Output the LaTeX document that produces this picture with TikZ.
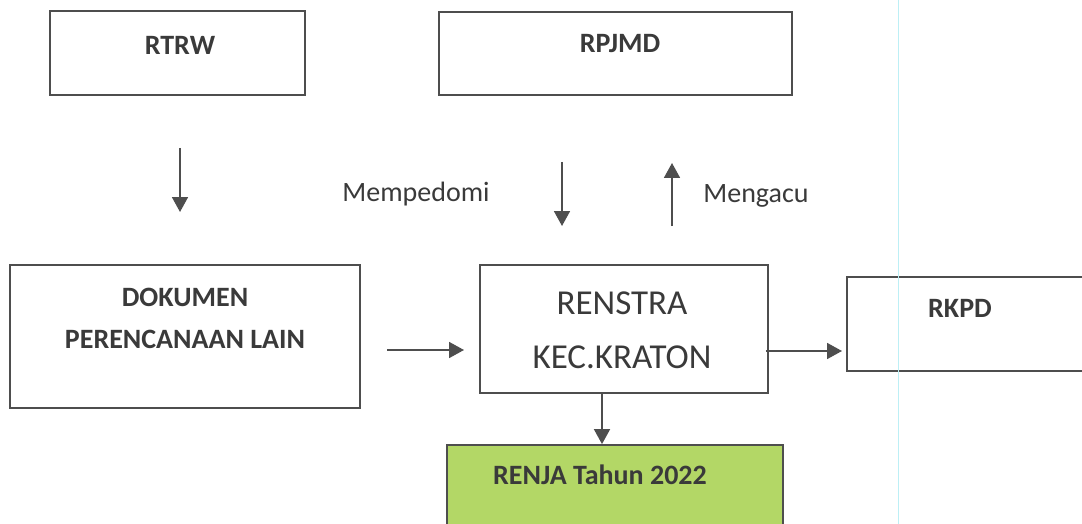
\documentclass[tikz,border=0pt]{standalone}
\usepackage{fontspec}
\setmainfont{Carlito}
\usetikzlibrary{arrows.meta}
\definecolor{txt}{HTML}{3A3A3A}
\definecolor{edge}{HTML}{4E4E4E}
\definecolor{renjagreen}{HTML}{B3D766}
\definecolor{guide}{HTML}{BDEFF5}
\begin{document}
\begin{tikzpicture}[x=1pt,y=-1pt,
  box/.style={draw=edge,line width=1.8pt,fill=white,inner sep=0pt},
  lbl/.style={text=txt,inner sep=0pt,align=center,font=\fontsize{28}{42}\selectfont\bfseries},
  biglbl/.style={text=txt,inner sep=0pt,align=center,font=\fontsize{35}{54}\selectfont},
  note/.style={text=txt,inner sep=0pt,font=\fontsize{28}{34}\selectfont},
  arr/.style={draw=edge,line width=1.8pt,-{Triangle[length=15pt,width=16pt]}}]
\useasboundingbox (0,0) rectangle (1082,524);
% boxes
\node[box,minimum width=255pt,minimum height=84pt] (rtrw) at (177.5,53) {};
\node[box,minimum width=353pt,minimum height=83pt] (rpjmd) at (615.5,53.5) {};
\node[box,minimum width=350pt,minimum height=143pt] (dok) at (185,336.5) {};
\node[box,minimum width=288pt,minimum height=128pt] (renstra) at (624,329) {};
\node[box,minimum width=250pt,minimum height=94pt] (rkpd) at (972,324) {};
\node[box,fill=renjagreen,minimum width=336pt,minimum height=90pt] (renja) at (615,490) {};
% texts
\node[lbl] (trtrw) at (180,45) {RTRW};
\node[lbl] (trpjmd) at (620,44) {RPJMD};
\node[lbl] (tdok) at (185,318) {DOKUMEN\\PERENCANAAN LAIN};
\node[biglbl] (trenstra) at (622,330) {RENSTRA\\KEC.KRATON};
\node[lbl] (trkpd) at (960,308) {RKPD};
\node[lbl] (trenja) at (600,475) {RENJA Tahun 2022};
\node[note] (mempedomi) at (416,194) {Mempedomi};
\node[note] (mengacu) at (756,196) {Mengacu};
% free arrow ends
\coordinate (a1s) at (180,148);
\coordinate (a1e) at (180,212);
\coordinate (a2s) at (562,162);
\coordinate (a2e) at (562,226);
\coordinate (a3s) at (672,226);
\coordinate (a3e) at (672,163);
\coordinate (a4s) at (387,350);
\coordinate (a4e) at (464,350);
\coordinate (a5e) at (842,351);
% connectors
\draw[arr] (a1s) -- (a1e);
\draw[arr] (a2s) -- (a2e);
\draw[arr] (a3s) -- (a3e);
\draw[arr] (a4s) -- (a4e);
\draw[arr] (renstra.east |- a5e) ++(-3,0) -- (a5e);
\draw[arr] (renstra.south -| 602,0) -- (renja.north -| 602,0);
% guide line
\coordinate (gtop) at (898,0);
\coordinate (gbot) at (898,524);
\draw[guide,line width=1pt] (gtop) -- (gbot);
\end{tikzpicture}
\end{document}
